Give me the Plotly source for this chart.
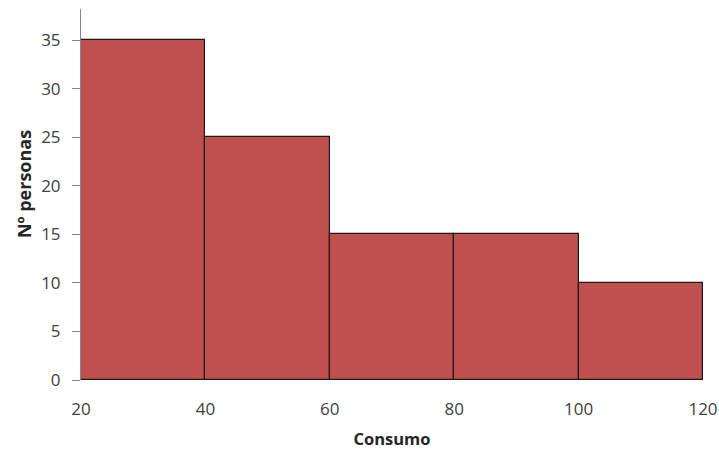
import plotly.graph_objects as go

bin_edges = [20, 40, 60, 80, 100, 120]
counts = [35, 25, 15, 15, 10]
y_ticks = [0, 5, 10, 15, 20, 25, 30, 35]
x_ticks = [20, 40, 60, 80, 100, 120]

centers = [(a + b) / 2 for a, b in zip(bin_edges[:-1], bin_edges[1:])]
widths = [b - a for a, b in zip(bin_edges[:-1], bin_edges[1:])]

fig = go.Figure(go.Bar(
    x=centers, y=counts, width=widths,
    marker=dict(color="#C0504D", line=dict(color="#1a1a1a", width=1.2)),
))

font = "Open Sans, Liberation Sans, sans-serif"
fig.update_layout(
    width=719, height=450,
    margin=dict(l=81, r=16, t=9, b=70, autoexpand=False),
    paper_bgcolor="white", plot_bgcolor="white",
    showlegend=False,
    font=dict(family=font, size=17, color="#404040"),
    bargap=0,
)
fig.update_xaxes(
    range=[20, 120], tickvals=x_ticks, ticktext=[str(v) for v in x_ticks],
    showgrid=False, zeroline=False, showline=False, automargin=False,
    ticks="outside", ticklen=14, tickcolor="rgba(0,0,0,0)",
    tickfont=dict(size=17, color="#404040"),
    title=dict(text="<b>Consumo</b>", font=dict(size=16.5, color="#262626"), standoff=16),
)
fig.update_yaxes(
    range=[0, 38.2], tickvals=y_ticks, automargin=False,
    showgrid=False, zeroline=False,
    showline=True, linecolor="#868686", linewidth=1,
    ticks="outside", ticklen=8, tickcolor="#868686",
    ticklabelstandoff=8,
    tickfont=dict(size=17, color="#404040"),
)
fig.add_annotation(
    text="<b>Nº personas</b>", xref="paper", yref="paper",
    x=0, y=0.528, xshift=-57, textangle=-90, showarrow=False,
    xanchor="center", yanchor="middle",
    font=dict(size=18, color="#262626"),
)

fig.write_html("out.html")
